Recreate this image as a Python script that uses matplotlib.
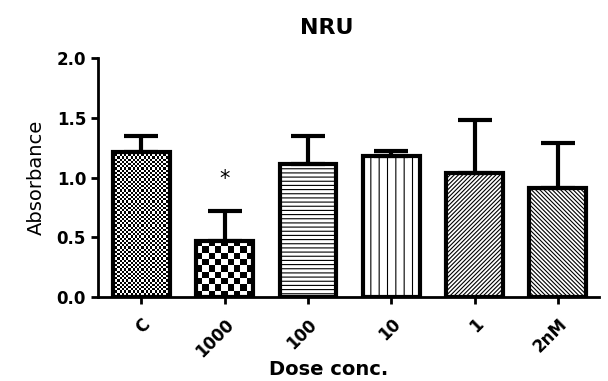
import numpy as np
import matplotlib.pyplot as plt

doses = ['C', '1000', '100', '10', '1', '2nM']
absorb = [1.21, 0.47, 1.11, 1.18, 1.04, 0.91]
err_up = [0.14, 0.25, 0.24, 0.04, 0.44, 0.38]
hatches = [None, None, '----', '||', '/' * 8, '\\' * 8]
checker_px = [2.2, 6.5, None, None, None, None]  # checker cell size in pixels

plt.rcParams['font.family'] = 'DejaVu Sans'
plt.rcParams['hatch.linewidth'] = 0.8

fig = plt.figure(figsize=(6.08, 3.81), dpi=100)
ax = fig.add_axes([0.161, 0.22, 0.825, 0.628])

x = np.arange(len(doses))
ax.set_xlim(-0.52, 5.5)
ax.set_ylim(0, 2.0)

bars = ax.bar(x, absorb, width=0.68, facecolor='none', edgecolor='black',
              linewidth=3, zorder=3)
for b, h in zip(bars, hatches):
    if h:
        b.set_hatch(h)

# checkerboard fills for the first two bars
fig.canvas.draw()
for b, c in zip(bars, checker_px):
    if c is None:
        continue
    x0, y0 = b.get_x(), 0
    x1, y1 = b.get_x() + b.get_width(), b.get_height()
    p0 = ax.transData.transform((x0, y0))
    p1 = ax.transData.transform((x1, y1))
    nx = max(1, int(round(abs(p1[0] - p0[0]) / c)))
    ny = max(1, int(round(abs(p1[1] - p0[1]) / c)))
    ii, jj = np.indices((ny, nx))
    img = ((ii + jj) % 2).astype(float)
    im = ax.imshow(img, cmap='gray', extent=(x0, x1, y0, y1), aspect='auto',
                   interpolation='nearest', zorder=2, vmin=0, vmax=1)
    im.set_clip_path(b)

ax.errorbar(x, absorb, yerr=[np.zeros(len(x)), err_up], fmt='none',
            ecolor='black', elinewidth=3, capsize=12, capthick=3, zorder=1)

ax.text(x[1], 0.99, '*', ha='center', va='center', fontsize=15)

for s in ['top', 'right']:
    ax.spines[s].set_visible(False)
for s in ['left', 'bottom']:
    ax.spines[s].set_linewidth(2)

ax.set_yticks([0, 0.5, 1.0, 1.5, 2.0])
ax.set_yticklabels(['0.0', '0.5', '1.0', '1.5', '2.0'], fontsize=12, fontweight='bold')
ax.set_xticks(x)
ax.set_xticklabels(doses, fontsize=12, fontweight='bold', rotation=45,
                   ha='right', va='top', rotation_mode='anchor')
ax.tick_params(axis='both', direction='out', length=5, width=2)
ax.tick_params(axis='x', pad=8)

ax.set_ylabel('Absorbance', fontsize=14, labelpad=8)
ax.set_xlabel('Dose conc.', fontsize=14, fontweight='bold', labelpad=0, x=0.46)
ax.set_title('NRU', fontsize=16, fontweight='bold', pad=17, x=0.456)

fig.savefig('out.png', dpi=100)
